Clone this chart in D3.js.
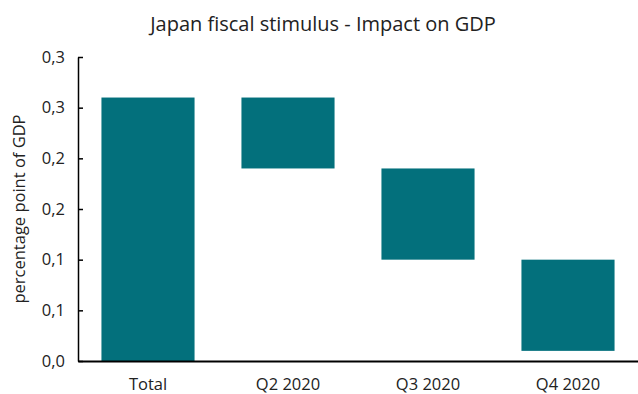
<!DOCTYPE html>
<html>
<head>
<meta charset="utf-8">
<script src="https://cdn.jsdelivr.net/npm/d3@7"></script>
<style>
  body { margin: 0; background: #fff; }
  svg text { font-family: "Open Sans", sans-serif; fill: #222; }
  .axis path, .axis line { stroke: #000; }
</style>
</head>
<body>
<div id="chart"></div>
<script>
// waterfall: each bar runs from "low" to "high"
const categories = ["Total", "Q2 2020", "Q3 2020", "Q4 2020"];
const highs = [0.26, 0.26, 0.19, 0.10];
const lows = [0.0, 0.19, 0.10, 0.01];
const yTicks = [0, 0.05, 0.10, 0.15, 0.20, 0.25, 0.30];
const yTickLabels = ["0,0", "0,1", "0,1", "0,2", "0,2", "0,3", "0,3"];

const width = 638;
const height = 394;
const margin = {top: 57, right: 0, bottom: 33, left: 78};

const svg = d3.select("#chart").append("svg")
    .attr("width", width)
    .attr("height", height);

//----------------------------SCALES----------------------------//
const xScale = d3.scaleBand()
    .domain(categories)
    .range([margin.left, width - margin.right])
    .paddingInner(0.335)
    .paddingOuter(0.1675);

const yScale = d3.scaleLinear()
    .domain([0, 0.3])
    .range([height - margin.bottom, margin.top]);

//-----------------------------BARS-----------------------------//
const data = categories.map(function(c, i) {
    return {cat: c, low: lows[i], high: highs[i]};
});

svg.selectAll(".bar")
    .data(data)
    .enter()
    .append("rect")
    .attr("class", "bar")
    .attr("x", function(d) { return xScale(d.cat); })
    .attr("width", xScale.bandwidth())
    .attr("y", function(d) { return yScale(d.high); })
    .attr("height", function(d) { return yScale(d.low) - yScale(d.high); })
    .attr("fill", "#03707c");

//-----------------------------AXES-----------------------------//
const yaxis = d3.axisLeft(yScale)
    .tickValues(yTicks)
    .tickFormat(function(d, i) { return yTickLabels[i]; })
    .tickSizeInner(-5)
    .tickSizeOuter(0)
    .tickPadding(13);

svg.append("g")
    .attr("class", "axis")
    .attr("transform", "translate(" + margin.left + ",0)")
    .call(yaxis)
    .call(function(g) {
        g.selectAll("path, line").attr("stroke-width", 1.5);
        g.selectAll("text").style("font-size", "16.5px");
    });

const xaxis = d3.axisBottom(xScale)
    .tickSize(0)
    .tickPadding(17);

svg.append("g")
    .attr("class", "axis")
    .attr("transform", "translate(0," + (height - margin.bottom) + ")")
    .call(xaxis)
    .call(function(g) {
        g.select(".domain").attr("stroke-width", 2);
        g.selectAll("text").style("font-size", "16.5px");
    });

//----------------------------LABELS----------------------------//
svg.append("text")
    .attr("x", 323)
    .attr("y", 31)
    .attr("text-anchor", "middle")
    .style("font-size", "20px")
    .text("Japan fiscal stimulus - Impact on GDP");

svg.append("text")
    .attr("transform", "translate(25," + ((margin.top + height - margin.bottom) / 2) + ") rotate(-90)")
    .attr("text-anchor", "middle")
    .style("font-size", "16.5px")
    .text("percentage point of GDP");
</script>
</body>
</html>
